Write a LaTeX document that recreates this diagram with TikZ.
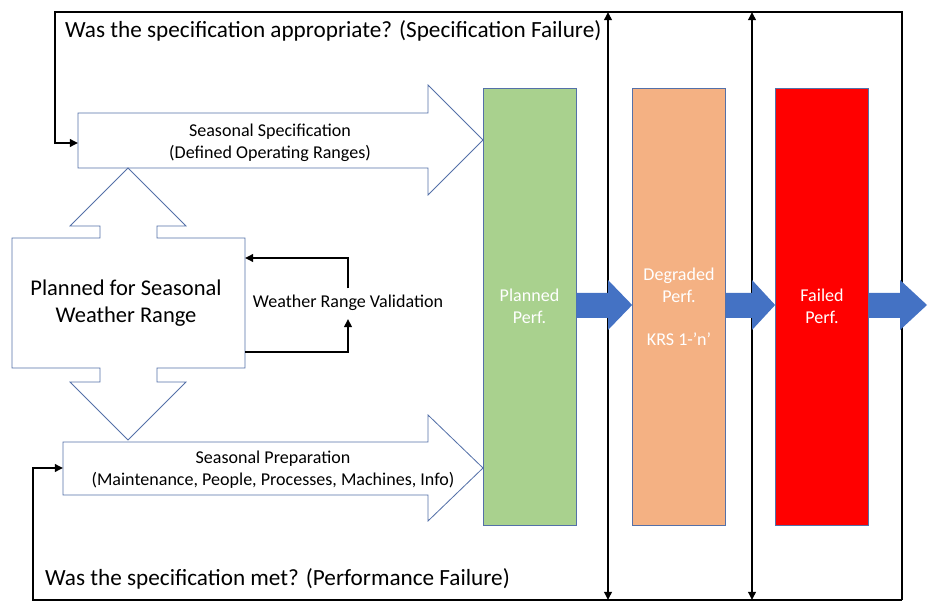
\documentclass[tikz,border=0pt]{standalone}
\usepackage{fontspec}
\setmainfont{Carlito}
\usepackage{tikz}
\usetikzlibrary{arrows.meta}
\definecolor{outl}{RGB}{84,112,168}
\definecolor{flowblue}{RGB}{68,114,196}
\definecolor{planned}{RGB}{169,209,142}
\definecolor{degraded}{RGB}{244,177,131}
\definecolor{failed}{RGB}{255,0,0}

\begin{document}
\begin{tikzpicture}[x=0.03cm,y=-0.03cm, every node/.style={font=\fontsize{15.4}{18.6}\selectfont},
  blk/.style={draw=outl,line width=0.7pt,fill=white},
  perf/.style={draw=outl,line width=0.6pt,minimum width=2.79cm,minimum height=13.11cm,text=white,align=center},
  fb/.style={line width=2.2pt,-{Triangle[length=7pt,width=6.5pt]}},
  big/.style={font=\fontsize{19.8}{23}\selectfont}]
\useasboundingbox (0,0) rectangle (933,601);

\draw[blk] (78,113)--(428,113)--(428,85)--(483,140)--(428,195)--(428,168)--(78,168)--cycle;
\node[align=center] (spec) at (270,143) {Seasonal Specification\\(Defined Operating Ranges)};
\coordinate (specin) at (78,143);

\draw[blk] (63,442)--(428,442)--(428,415)--(483,468)--(428,521)--(428,495)--(63,495)--cycle;
\node[align=center] (prep) at (273,470) {Seasonal Preparation\\(Maintenance, People, Processes, Machines, Info)};
\coordinate (prepin) at (63,468);

\draw[blk] (12,238)--(100,238)--(100,226)--(70,226)--(128,168)--(186,226)--(157,226)--(157,238)--(245,238)
  --(245,368)--(157,368)--(157,382)--(186,382)--(128,440)--(70,382)--(100,382)--(100,368)--(12,368)--cycle;
\node[font=\fontsize{19.2}{23.5}\selectfont,align=center] (plan) at (126,303) {Planned for Seasonal\\Weather Range};

\node (val) at (348,303) {Weather Range Validation};
\coordinate (vb) at (245,352);
\coordinate (vt) at (245,258);
\draw[fb] (vb) -| ([yshift=-0.12cm]val.south);
\draw[fb] ([yshift=0.08cm]val.north) |- (vt);

\node[perf,fill=planned] (pp) at (529.5,306.5) {Planned\\Perf.};
\node[perf,fill=degraded] (dp) at (679,306.5) {Degraded\\Perf.\\[18pt]KRS 1-’n’};
\node[perf,fill=failed] (fp) at (822,306.5) {Failed\\Perf.};

\coordinate (tl) at (55,12);
\coordinate (tr) at (902,12);
\coordinate (br) at (902,600);
\coordinate (bl) at (33,600);
\coordinate (v1t) at (608,12);
\coordinate (v1b) at (608,600);
\coordinate (v2t) at (752,12);
\coordinate (v2b) at (752,600);

\draw[fb] (br) -- (tr) -- (tl) |- (specin);
\draw[fb] (br) -- (bl) |- (prepin);
\draw[line width=2.2pt,{Triangle[length=7pt,width=6.5pt]}-{Triangle[length=7pt,width=6.5pt]}] (v1t) -- (v1b);
\draw[line width=2.2pt,{Triangle[length=7pt,width=6.5pt]}-{Triangle[length=7pt,width=6.5pt]}] (v2t) -- (v2b);

\node[big,anchor=west] (q1) at (61,31) {Was the specification appropriate? (Specification Failure)};
\node[big,anchor=west] (q2) at (41,579) {Was the specification met? (Performance Failure)};

\fill[flowblue] (pp.east|-0,293) -- (608,293) -- (608,280) -- (dp.west|-0,305) -- (608,330) -- (608,318) -- (pp.east|-0,318) -- cycle;
\fill[flowblue] (dp.east|-0,293) -- (752,293) -- (752,280) -- (fp.west|-0,305) -- (752,330) -- (752,318) -- (dp.east|-0,318) -- cycle;
\fill[flowblue] (fp.east|-0,293) -- (900,293) -- (900,280) -- (927,305) -- (900,330) -- (900,318) -- (fp.east|-0,318) -- cycle;
\end{tikzpicture}
\end{document}
